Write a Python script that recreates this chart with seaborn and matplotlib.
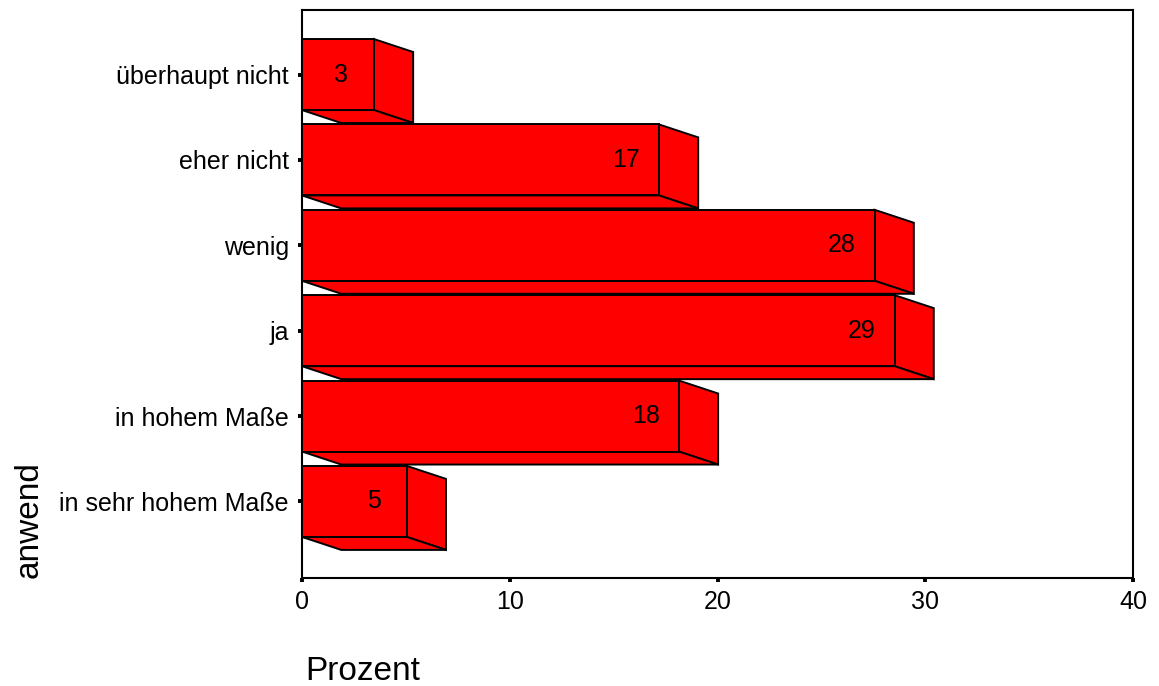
import matplotlib
matplotlib.use("Agg")
import matplotlib.pyplot as plt
from matplotlib.patches import Polygon
import seaborn as sns
import pandas as pd

# ---- data ----
categories = ["überhaupt nicht", "eher nicht", "wenig", "ja",
              "in hohem Maße", "in sehr hohem Maße"]
percent = [3.46, 17.18, 27.56, 28.52, 18.14, 5.04]
x_ticks = [0, 10, 20, 30, 40]
x_label = "Prozent"
y_label = "anwend"

sns.set_style("white")
plt.rcParams["font.family"] = ["Liberation Sans", "DejaVu Sans"]
plt.rcParams["text.color"] = "black"
plt.rcParams["axes.labelcolor"] = "black"

df = pd.DataFrame({"anwend": categories, "Prozent": percent})

fig = plt.figure(figsize=(11.59, 6.86), dpi=100)
ax = fig.add_axes([302 / 1159, 1 - 578 / 686, (1133 - 302) / 1159, (578 - 10) / 686])

RED = "#FF0000"
bar_h = 0.832
depth_x = 1.89   # 3D depth in x data units
depth_y = 0.152  # 3D depth in category units (downwards)
lw = 1.4

sns.barplot(data=df, x="Prozent", y="anwend", orient="h", color=RED,
            saturation=1, edgecolor="black", linewidth=lw, width=bar_h,
            ax=ax, zorder=3)

for i, v in enumerate(percent):
    top = i - bar_h / 2
    bot = i + bar_h / 2
    side = Polygon([(v, top), (v + depth_x, top + depth_y),
                    (v + depth_x, bot + depth_y), (v, bot)],
                   closed=True, facecolor=RED, edgecolor="black",
                   linewidth=lw, zorder=2, joinstyle="miter")
    bottom = Polygon([(0, bot), (v, bot), (v + depth_x, bot + depth_y),
                      (depth_x, bot + depth_y)],
                     closed=True, facecolor=RED, edgecolor="black",
                     linewidth=lw, zorder=2, joinstyle="miter")
    ax.add_patch(side)
    ax.add_patch(bottom)
    ax.text(v - 1.59, i, f"{v:.0f}", ha="center", va="center",
            fontsize=18, color="black", zorder=4)

ax.set_xlim(0, 40)
ax.set_ylim(len(categories) - 1 + 0.897, -0.756)
ax.set_xticks(x_ticks)
ax.set_xticklabels([str(t) for t in x_ticks])

for s in ax.spines.values():
    s.set_visible(True)
    s.set_color("black")
    s.set_linewidth(1.5)

ax.tick_params(axis="both", which="both", direction="out", length=3, width=2.8,
               color="black", labelsize=18, labelcolor="black",
               bottom=True, left=True, top=False, right=False)
ax.tick_params(axis="y", pad=6.5)
ax.tick_params(axis="x", pad=5.5)

ax.set_xlabel(x_label, fontsize=24, loc="left", color="black")
ax.set_ylabel(y_label, fontsize=24, loc="bottom", color="black")
ax.xaxis.set_label_coords(0.004, -0.137)
ax.yaxis.set_label_coords(-0.31, 0.0)

fig.savefig("out.png", dpi=100)
